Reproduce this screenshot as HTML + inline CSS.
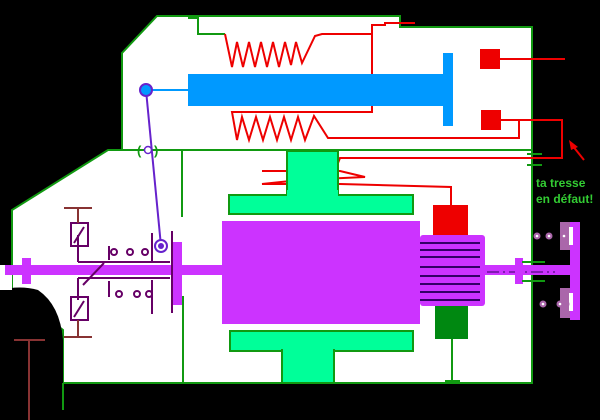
<!DOCTYPE html>
<html><head><meta charset="utf-8"><style>html,body{margin:0;padding:0;background:#000}svg{display:block}</style></head>
<body>
<svg width="600" height="420" viewBox="0 0 600 420" xmlns="http://www.w3.org/2000/svg">
<rect width="600" height="420" fill="#000"/>
<polygon points="157,16 400,16 400,27 532,27 532,383 63,383 63,330 12,290 12,210 108,150 122,150 122,53" fill="#fff" stroke="#119911" stroke-width="2"/>
<path d="M0,290 Q20,285 38,290 Q60,305 63,340 L63,420 L0,420 Z" fill="#000"/>
<rect x="0" y="265" width="12" height="25" fill="#fff"/>
<line x1="63" y1="383" x2="63" y2="410" stroke="#119911" stroke-width="2"/>
<line x1="122" y1="150" x2="532" y2="150" stroke="#119911" stroke-width="2"/>
<line x1="182" y1="150" x2="182" y2="217" stroke="#119911" stroke-width="2"/>
<line x1="183" y1="296" x2="183" y2="382" stroke="#119911" stroke-width="2"/>
<polyline points="188,18 198,18 198,34 225,34" fill="none" stroke="#119911" stroke-width="2"/>
<line x1="14" y1="340" x2="45" y2="340" stroke="#883333" stroke-width="2"/>
<line x1="29" y1="340" x2="29" y2="420" stroke="#883333" stroke-width="2"/>
<polyline points="225,34 232,67 237,42 243,67 249,42 255,67 261,42 267,67 273,42 279,67 285,42 291,65 296,42 302,63 315,36 322,34 372,34 372,25 385,25 385,23 415,23" fill="none" stroke="#e00" stroke-width="2"/>
<polyline points="372,34 372,112 232,112 237,140 242,117 249,140 256,117 263,140 270,117 277,140 284,117 291,140 298,117 305,140 314,116 328,138 519,138 519,120 500,120" fill="none" stroke="#e00" stroke-width="2"/>
<polyline points="500,120 562,120 562,158 340,158 338,163" fill="none" stroke="#e00" stroke-width="2"/>
<polyline points="500,59 565,59" fill="none" stroke="#e00" stroke-width="2"/>
<polyline points="262,171 340,171 365,177 300,180 262,184 340,184 451,187 451,205" fill="none" stroke="#e00" stroke-width="2"/>
<rect x="480" y="49" width="20" height="20" fill="#e00"/>
<rect x="481" y="110" width="20" height="20" fill="#e00"/>
<line x1="584" y1="160" x2="572" y2="145" stroke="#e00" stroke-width="2"/>
<polygon points="569,140 578,147 571,150" fill="#e00"/>
<line x1="146" y1="90" x2="188" y2="90" stroke="#0099ff" stroke-width="2"/>
<rect x="188" y="74" width="256" height="32" fill="#0099ff"/>
<rect x="443" y="53" width="10" height="73" fill="#0099ff"/>
<rect x="287" y="151" width="51" height="45" fill="#00ff99" stroke="#119911" stroke-width="2"/>
<rect x="229" y="195" width="184" height="19" fill="#00ff99" stroke="#119911" stroke-width="2"/>
<rect x="287" y="190" width="51" height="8" fill="#00ff99"/>
<rect x="230" y="331" width="183" height="20" fill="#00ff99" stroke="#119911" stroke-width="2"/>
<rect x="282" y="350" width="52" height="33" fill="#00ff99" stroke="#119911" stroke-width="2"/>
<rect x="283" y="348" width="50" height="5" fill="#00ff99"/>
<line x1="63" y1="383" x2="532" y2="383" stroke="#119911" stroke-width="2"/>
<rect x="433" y="205" width="35" height="30" fill="#e00"/>
<rect x="435" y="306" width="33" height="33" fill="#008811"/>
<line x1="452" y1="339" x2="452" y2="381" stroke="#119911" stroke-width="2"/>
<line x1="445" y1="381" x2="460" y2="381" stroke="#119911" stroke-width="2"/>
<rect x="5" y="265" width="575" height="10" fill="#cc33ff"/>
<rect x="22" y="258" width="9" height="26" fill="#cc33ff"/>
<rect x="172" y="242" width="10" height="63" fill="#cc33ff"/>
<rect x="222" y="221" width="198" height="103" fill="#cc33ff"/>
<rect x="420" y="235" width="65" height="71" rx="3" fill="#cc33ff"/>
<g stroke="#330066" stroke-width="2">
<line x1="420" y1="243" x2="480" y2="243"/><line x1="420" y1="250" x2="480" y2="250"/><line x1="420" y1="257" x2="480" y2="257"/>
<line x1="420" y1="267" x2="480" y2="267"/><line x1="420" y1="276" x2="480" y2="276"/><line x1="420" y1="284" x2="480" y2="284"/>
<line x1="420" y1="292" x2="480" y2="292"/><line x1="420" y1="300" x2="480" y2="300"/>
</g>
<line x1="487" y1="272" x2="555" y2="272" stroke="#330066" stroke-width="1" stroke-dasharray="12,4,2,4"/>
<rect x="515" y="258" width="8" height="26" fill="#cc33ff"/>
<rect x="570" y="222" width="10" height="98" fill="#cc33ff"/>
<rect x="560" y="222" width="10" height="28" fill="#aa66aa"/>
<rect x="560" y="288" width="10" height="30" fill="#aa66aa"/>
<g fill="#fff"><rect x="569" y="227" width="4" height="18"/><rect x="569" y="293" width="4" height="18"/></g>
<g fill="#aa66aa"><circle cx="537" cy="236" r="3.5"/><circle cx="549" cy="236" r="3.5"/><circle cx="564" cy="236" r="3.5"/><circle cx="543" cy="304" r="3.5"/><circle cx="560" cy="304" r="3.5"/><circle cx="566" cy="304" r="3.5"/></g>
<g fill="#fff"><circle cx="537" cy="236" r="1.3"/><circle cx="549" cy="236" r="1.3"/><circle cx="564" cy="236" r="1.3"/><circle cx="543" cy="304" r="1.3"/><circle cx="560" cy="304" r="1.3"/></g>
<g stroke="#119911" stroke-width="2"><line x1="527" y1="154" x2="542" y2="154"/><line x1="527" y1="165" x2="542" y2="165"/><line x1="522" y1="262" x2="545" y2="262"/><line x1="522" y1="281" x2="545" y2="281"/></g>
<g stroke="#660066" stroke-width="2" fill="none">
<line x1="78" y1="262" x2="170" y2="262"/><line x1="78" y1="278" x2="170" y2="278"/>
<line x1="78" y1="235" x2="78" y2="262"/><line x1="78" y1="278" x2="78" y2="300"/>
<rect x="71" y="223" width="17" height="23"/><rect x="71" y="297" width="17" height="23"/>
<line x1="74" y1="243" x2="84" y2="227"/><line x1="74" y1="317" x2="84" y2="301"/>
<line x1="83" y1="285" x2="104" y2="263"/>
<line x1="109" y1="246" x2="109" y2="260"/><line x1="109" y1="281" x2="109" y2="297"/>
<line x1="152" y1="233" x2="152" y2="262"/><line x1="152" y1="280" x2="152" y2="314"/>
<line x1="172" y1="231" x2="172" y2="313"/>
<circle cx="114" cy="252" r="3"/><circle cx="130" cy="252" r="3"/><circle cx="145" cy="252" r="3"/>
<circle cx="119" cy="294" r="3"/><circle cx="137" cy="294" r="3"/><circle cx="149" cy="294" r="3"/>
</g>
<g stroke="#883333" stroke-width="2"><line x1="64" y1="208" x2="92" y2="208"/><line x1="78" y1="208" x2="78" y2="223"/><line x1="64" y1="337" x2="92" y2="337"/><line x1="78" y1="320" x2="78" y2="337"/></g>
<line x1="146" y1="90" x2="161" y2="246" stroke="#6622cc" stroke-width="2"/>
<circle cx="146" cy="90" r="6" fill="#0099ff" stroke="#6622cc" stroke-width="2"/>
<circle cx="148" cy="150" r="3.5" fill="#fff" stroke="#6622cc" stroke-width="1.5"/>
<circle cx="161" cy="246" r="6" fill="#fff" stroke="#6622cc" stroke-width="2"/>
<circle cx="161" cy="246" r="3" fill="#6622cc"/>
<text x="137" y="155" font-family="Liberation Sans, sans-serif" font-size="13" font-weight="bold" fill="#119911">(</text>
<text x="154" y="155" font-family="Liberation Sans, sans-serif" font-size="13" font-weight="bold" fill="#119911">)</text>
<text x="536" y="187" font-family="Liberation Sans, sans-serif" font-size="12" font-weight="bold" fill="#33cc33">ta tresse</text>
<text x="536" y="203" font-family="Liberation Sans, sans-serif" font-size="12" font-weight="bold" fill="#33cc33">en défaut!</text>
</svg>
</body></html>
